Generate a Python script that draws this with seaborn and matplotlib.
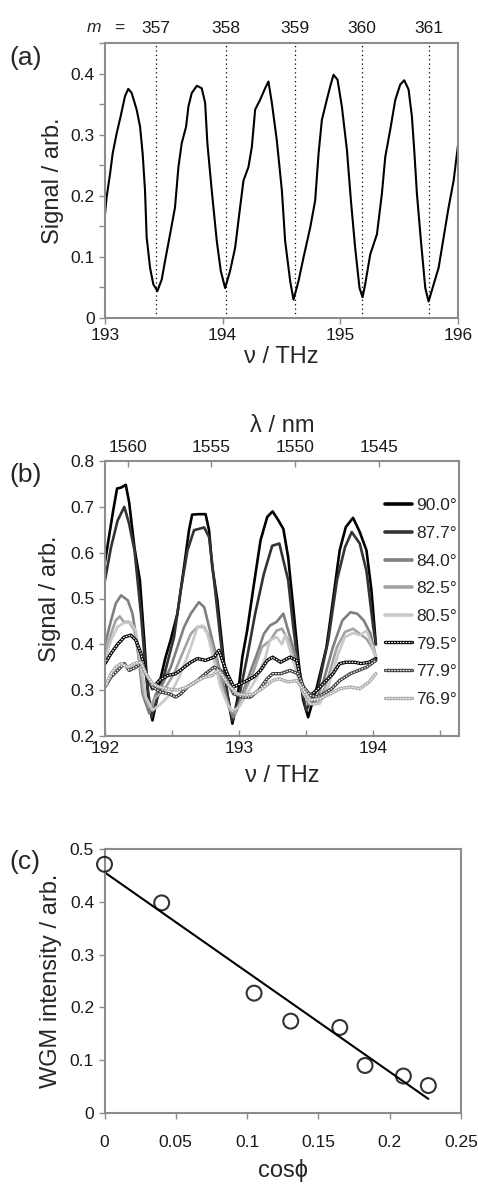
import numpy as np
import pandas as pd
import seaborn as sns
import matplotlib.pyplot as plt
from matplotlib.lines import Line2D
from matplotlib.legend_handler import HandlerTuple
from matplotlib.ticker import MultipleLocator, FuncFormatter

# ---- data: panel (a), single WGM spectrum ----
a_freq = [193.00, 193.014, 193.043, 193.065, 193.099, 193.133, 193.170, 193.198, 193.227,
          193.269, 193.298, 193.320, 193.340, 193.354, 193.383, 193.411, 193.445, 193.482,
          193.510, 193.553, 193.595, 193.624, 193.652, 193.689, 193.709, 193.737, 193.780,
          193.822, 193.851, 193.870, 193.907, 193.950, 193.984, 194.021, 194.063, 194.106,
          194.148, 194.177, 194.219, 194.248, 194.276, 194.318, 194.361, 194.389, 194.418,
          194.460, 194.503, 194.531, 194.574, 194.602, 194.644, 194.687, 194.744, 194.786,
          194.815, 194.843, 194.885, 194.914, 194.942, 194.976, 195.013, 195.056, 195.090,
          195.126, 195.163, 195.189, 195.211, 195.254, 195.311, 195.353, 195.382, 195.424,
          195.467, 195.509, 195.543, 195.580, 195.608, 195.628, 195.651, 195.685, 195.722,
          195.750, 195.793, 195.835, 195.878, 195.920, 195.963, 196.000]
a_signal = [0.170, 0.198, 0.236, 0.269, 0.302, 0.330, 0.363, 0.375, 0.368,
            0.341, 0.313, 0.269, 0.209, 0.132, 0.082, 0.055, 0.044, 0.063,
            0.093, 0.137, 0.181, 0.247, 0.286, 0.313, 0.346, 0.368, 0.380,
            0.376, 0.352, 0.286, 0.209, 0.126, 0.077, 0.049, 0.077, 0.115,
            0.181, 0.225, 0.247, 0.280, 0.341, 0.357, 0.376, 0.387, 0.352,
            0.291, 0.209, 0.126, 0.060, 0.030, 0.060, 0.099, 0.148, 0.192,
            0.269, 0.324, 0.357, 0.379, 0.398, 0.390, 0.346, 0.275, 0.192,
            0.115, 0.049, 0.034, 0.055, 0.104, 0.137, 0.203, 0.264, 0.308,
            0.357, 0.382, 0.389, 0.374, 0.330, 0.275, 0.203, 0.126, 0.049,
            0.027, 0.055, 0.082, 0.132, 0.181, 0.225, 0.283]
m_freq = [193.434, 194.026, 194.616, 195.180, 195.753]
m_labels = ["357", "358", "359", "360", "361"]

# ---- data: panel (b), spectra at different angles ----
angles = ["90.0°", "87.7°", "84.0°", "82.5°", "80.5°", "79.5°", "77.9°", "76.9°"]
b_colors = ["#000000", "#333333", "#7f7f7f", "#a3a3a3", "#c9c9c9", "#000000", "#3c3c3c", "#a8a8a8"]
b_dotted = [False, False, False, False, False, True, True, True]
lambda_ticks = [1560, 1555, 1550, 1545]

f_900 = [192.00, 192.03, 192.06, 192.09, 192.12, 192.155, 192.18, 192.22, 192.26, 192.29, 192.32,
         192.354, 192.38, 192.41, 192.45, 192.49, 192.54, 192.59, 192.627, 192.65, 192.70, 192.75,
         192.776, 192.80, 192.838, 192.875, 192.912, 192.95, 192.986, 193.024, 193.06, 193.11,
         193.16, 193.21, 193.25, 193.29, 193.33, 193.366, 193.404, 193.44, 193.478, 193.515,
         193.58, 193.652, 193.70, 193.75, 193.796, 193.85, 193.90, 193.95, 193.987, 194.02]
s_900 = [0.58, 0.635, 0.69, 0.74, 0.742, 0.748, 0.71, 0.61, 0.54, 0.42, 0.29,
         0.234, 0.27, 0.32, 0.37, 0.41, 0.467, 0.57, 0.65, 0.683, 0.684, 0.684,
         0.649, 0.569, 0.496, 0.394, 0.292, 0.227, 0.278, 0.372, 0.43, 0.53,
         0.627, 0.678, 0.69, 0.672, 0.652, 0.59, 0.48, 0.372, 0.278, 0.241,
         0.307, 0.394, 0.496, 0.605, 0.656, 0.676, 0.645, 0.605, 0.518, 0.40]

f_877 = [192.00, 192.045, 192.094, 192.144, 192.18, 192.22, 192.268, 192.305, 192.347, 192.43,
         192.515, 192.565, 192.615, 192.664, 192.74, 192.776, 192.813, 192.862, 192.912, 192.95,
         193.00, 193.06, 193.12, 193.185, 193.247, 193.30, 193.366, 193.404, 193.455, 193.50,
         193.59, 193.665, 193.73, 193.79, 193.84, 193.90, 193.95, 194.00, 194.02]
s_877 = [0.54, 0.612, 0.67, 0.70, 0.663, 0.605, 0.467, 0.336, 0.241, 0.32,
         0.416, 0.518, 0.605, 0.649, 0.655, 0.634, 0.54, 0.409, 0.292, 0.234,
         0.285, 0.372, 0.467, 0.554, 0.615, 0.62, 0.54, 0.438, 0.321, 0.256,
         0.307, 0.409, 0.54, 0.612, 0.645, 0.62, 0.56, 0.438, 0.40]

f_840 = [192.00, 192.045, 192.08, 192.12, 192.17, 192.205, 192.243, 192.28, 192.33, 192.38,
         192.43, 192.49, 192.54, 192.59, 192.64, 192.70, 192.74, 192.776, 192.825, 192.875,
         192.924, 192.957, 193.00, 193.06, 193.135, 193.185, 193.23, 193.28, 193.33, 193.366,
         193.416, 193.466, 193.515, 193.565, 193.63, 193.70, 193.77, 193.83, 193.88, 193.93,
         193.98, 194.02]
s_840 = [0.40, 0.452, 0.489, 0.507, 0.496, 0.467, 0.394, 0.292, 0.249, 0.292,
         0.314, 0.35, 0.394, 0.438, 0.467, 0.492, 0.481, 0.438, 0.38, 0.321,
         0.263, 0.241, 0.27, 0.321, 0.38, 0.423, 0.441, 0.449, 0.467, 0.43,
         0.38, 0.321, 0.27, 0.27, 0.321, 0.394, 0.452, 0.47, 0.467, 0.452,
         0.423, 0.372]

f_825 = [192.00, 192.045, 192.08, 192.11, 192.14, 192.18, 192.22, 192.255, 192.29, 192.33,
         192.38, 192.44, 192.515, 192.577, 192.64, 192.69, 192.74, 192.79, 192.84, 192.887,
         192.937, 192.974, 193.036, 193.11, 193.17, 193.234, 193.28, 193.32, 193.366, 193.416,
         193.466, 193.53, 193.59, 193.65, 193.73, 193.79, 193.85, 193.90, 193.95, 193.99, 194.02]
s_825 = [0.38, 0.423, 0.452, 0.461, 0.449, 0.449, 0.43, 0.365, 0.292, 0.263,
         0.285, 0.30, 0.336, 0.38, 0.423, 0.438, 0.438, 0.409, 0.35, 0.292,
         0.256, 0.249, 0.292, 0.343, 0.394, 0.409, 0.43, 0.434, 0.409, 0.358,
         0.307, 0.27, 0.27, 0.314, 0.394, 0.427, 0.434, 0.423, 0.412, 0.394, 0.372]

f_805 = [192.00, 192.045, 192.094, 192.144, 192.193, 192.23, 192.268, 192.305, 192.354, 192.416,
         192.49, 192.565, 192.64, 192.69, 192.726, 192.763, 192.813, 192.862, 192.912, 192.95,
         193.00, 193.06, 193.135, 193.197, 193.23, 193.28, 193.32, 193.345, 193.38, 193.43,
         193.48, 193.53, 193.60, 193.665, 193.74, 193.79, 193.85, 193.90, 193.95, 193.99, 194.02]
s_805 = [0.365, 0.409, 0.438, 0.447, 0.447, 0.43, 0.358, 0.285, 0.256, 0.27,
         0.292, 0.336, 0.394, 0.438, 0.441, 0.423, 0.365, 0.307, 0.27, 0.255,
         0.263, 0.292, 0.329, 0.372, 0.409, 0.416, 0.40, 0.42, 0.387, 0.336,
         0.292, 0.27, 0.27, 0.307, 0.38, 0.416, 0.425, 0.42, 0.43, 0.40, 0.372]

f_795 = [192.00, 192.045, 192.094, 192.144, 192.193, 192.23, 192.268, 192.305, 192.354, 192.404,
         192.466, 192.528, 192.59, 192.64, 192.69, 192.75, 192.813, 192.85, 192.875, 192.912,
         192.96, 193.01, 193.06, 193.11, 193.16, 193.21, 193.25, 193.31, 193.38, 193.43,
         193.466, 193.515, 193.58, 193.65, 193.70, 193.75, 193.80, 193.86, 193.91, 193.97, 194.02]
s_795 = [0.358, 0.38, 0.40, 0.416, 0.42, 0.409, 0.38, 0.336, 0.303, 0.321,
         0.332, 0.336, 0.35, 0.361, 0.369, 0.365, 0.372, 0.387, 0.365, 0.336,
         0.307, 0.314, 0.321, 0.329, 0.343, 0.365, 0.372, 0.361, 0.372, 0.365,
         0.314, 0.285, 0.30, 0.321, 0.336, 0.358, 0.361, 0.361, 0.358, 0.361, 0.369]

f_779 = [192.00, 192.045, 192.094, 192.144, 192.18, 192.23, 192.268, 192.305, 192.354, 192.416,
         192.478, 192.528, 192.565, 192.615, 192.69, 192.75, 192.813, 192.862, 192.912, 192.96,
         193.024, 193.085, 193.147, 193.21, 193.25, 193.31, 193.38, 193.44, 193.48, 193.53,
         193.58, 193.63, 193.69, 193.75, 193.83, 193.89, 193.95, 194.02]
s_779 = [0.307, 0.329, 0.343, 0.358, 0.343, 0.35, 0.361, 0.336, 0.307, 0.296,
         0.292, 0.285, 0.292, 0.307, 0.321, 0.336, 0.35, 0.343, 0.321, 0.292,
         0.285, 0.285, 0.30, 0.325, 0.336, 0.336, 0.343, 0.336, 0.307, 0.289,
         0.285, 0.292, 0.303, 0.321, 0.336, 0.343, 0.35, 0.365]

f_769 = [192.00, 192.045, 192.08, 192.12, 192.17, 192.22, 192.268, 192.305, 192.354, 192.404,
         192.466, 192.54, 192.615, 192.69, 192.75, 192.80, 192.838, 192.875, 192.924, 192.986,
         193.05, 193.11, 193.17, 193.25, 193.295, 193.366, 193.43, 193.48, 193.53, 193.60,
         193.68, 193.75, 193.83, 193.90, 193.97, 194.02]
s_769 = [0.307, 0.336, 0.35, 0.358, 0.35, 0.358, 0.361, 0.336, 0.314, 0.307,
         0.303, 0.30, 0.307, 0.321, 0.329, 0.332, 0.343, 0.332, 0.31, 0.292,
         0.289, 0.292, 0.303, 0.321, 0.325, 0.318, 0.321, 0.30, 0.278, 0.281,
         0.292, 0.303, 0.307, 0.303, 0.318, 0.336]

b_freqs = [f_900, f_877, f_840, f_825, f_805, f_795, f_779, f_769]
b_signals = [s_900, s_877, s_840, s_825, s_805, s_795, s_779, s_769]

# ---- data: panel (c), WGM intensity vs cos(phi) ----
cos_phi = [0.0, 0.0401, 0.1049, 0.1306, 0.165, 0.1827, 0.2096, 0.2271]
wgm_intensity = [0.471, 0.398, 0.227, 0.174, 0.162, 0.090, 0.070, 0.052]

# ---- style ----
sns.set_theme(style="white")
plt.rcParams['font.family'] = ['Liberation Sans', 'DejaVu Sans']
EDGE = '#8c8c8c'
TICK_FS = 12.5
LABEL_FS = 17
C_NM_THZ = 299792.458
DOT_LS = (0, (1.3, 1.0))

fmt = FuncFormatter(lambda v, p: f"{v:g}")


def style_axes(ax):
    for s in ax.spines.values():
        s.set_color(EDGE)
        s.set_linewidth(1.5)
    ax.tick_params(which='both', colors=EDGE, labelcolor='#1a1a1a', labelsize=TICK_FS,
                   length=4, width=1, direction='out', bottom=True, left=True)


fig = plt.figure(figsize=(4.78, 11.84), dpi=100)
W, H = 478, 1184


def add_axes(l, t, r, b):
    return fig.add_axes([l / W, 1 - b / H, (r - l) / W, (b - t) / H])


# ---- (a) ----
ax_a = add_axes(105, 43, 458, 318)
sns.lineplot(x=a_freq, y=a_signal, color='black', lw=1.5, estimator=None, sort=False, ax=ax_a)
for f in m_freq:
    ax_a.axvline(f, color='black', ls=(0, (1, 2.5)), lw=0.9)
ax_a.set_xlim(193, 196)
ax_a.set_ylim(0, 0.45)
ax_a.xaxis.set_major_locator(MultipleLocator(1))
ax_a.yaxis.set_major_locator(MultipleLocator(0.1))
ax_a.yaxis.set_minor_locator(MultipleLocator(0.05))
ax_a.xaxis.set_major_formatter(fmt)
ax_a.yaxis.set_major_formatter(fmt)
style_axes(ax_a)
ax_a.set_xlabel("ν / THz", fontsize=LABEL_FS)
ax_a.set_ylabel("Signal / arb.", fontsize=LABEL_FS)
ax_a.xaxis.set_label_coords(0.5, -0.10)
ax_a.yaxis.set_label_coords(-0.115, 0.5)
top_a = ax_a.secondary_xaxis('top')
top_a.set_xticks(m_freq, m_labels)
top_a.tick_params(length=0, labelsize=TICK_FS, labelcolor='#1a1a1a', pad=5)
top_a.spines['top'].set_visible(False)
fig.text(87 / W, 1 - 28 / H, "m", style='italic', fontsize=TICK_FS, ha='left', va='center')
fig.text(114 / W, 1 - 28 / H, "=", fontsize=TICK_FS, ha='left', va='center')

# ---- (b) ----
ax_b = add_axes(105, 461, 459, 736)
handles = []
for freq, sig, col, dotted in zip(b_freqs, b_signals, b_colors, b_dotted):
    if dotted:
        sns.lineplot(x=freq, y=sig, color=col, lw=2.4, estimator=None, sort=False, ax=ax_b)
        sns.lineplot(x=freq, y=sig, color='white', lw=0.9, linestyle=DOT_LS,
                     estimator=None, sort=False, ax=ax_b)
        handles.append((Line2D([], [], color=col, lw=2.4),
                        Line2D([], [], color='white', lw=0.9, linestyle=DOT_LS)))
    else:
        sns.lineplot(x=freq, y=sig, color=col, lw=1.9, estimator=None, sort=False, ax=ax_b)
        handles.append(Line2D([], [], color=col, lw=2.6))
ax_b.set_xlim(192, 194.64)
ax_b.set_ylim(0.2, 0.8)
ax_b.xaxis.set_major_locator(MultipleLocator(1))
ax_b.xaxis.set_minor_locator(MultipleLocator(0.5))
ax_b.yaxis.set_major_locator(MultipleLocator(0.1))
ax_b.xaxis.set_major_formatter(fmt)
ax_b.yaxis.set_major_formatter(fmt)
style_axes(ax_b)
ax_b.tick_params(axis='x', which='both', direction='in')
ax_b.set_xlabel("ν / THz", fontsize=LABEL_FS)
ax_b.set_ylabel("Signal / arb.", fontsize=LABEL_FS)
ax_b.xaxis.set_label_coords(0.5, -0.105)
ax_b.yaxis.set_label_coords(-0.125, 0.5)
top_b = ax_b.secondary_xaxis('top', functions=(lambda v: C_NM_THZ / np.maximum(v, 1e-9),
                                               lambda v: C_NM_THZ / np.maximum(v, 1e-9)))
top_b.set_xticks(lambda_ticks)
top_b.xaxis.set_major_formatter(fmt)
top_b.tick_params(direction='in', colors=EDGE, labelcolor='#1a1a1a', labelsize=TICK_FS,
                  length=4, width=1, pad=4)
top_b.spines['top'].set_visible(False)
top_b.set_xlabel("λ / nm", fontsize=LABEL_FS, labelpad=6)
ax_b.legend(handles, angles, handler_map={tuple: HandlerTuple(ndivide=1, pad=0)},
            frameon=False, loc='upper left', bbox_to_anchor=(0.79, 0.865),
            fontsize=TICK_FS, handlelength=1.6, handletextpad=0.2, labelspacing=0.72,
            borderpad=0, borderaxespad=0)

# ---- (c) ----
ax_c = add_axes(104.5, 849, 461, 1113)
sns.regplot(x=cos_phi, y=wgm_intensity, ci=None, ax=ax_c, color='black', marker='o',
            scatter_kws=dict(facecolors='none', edgecolors='black', s=115, linewidths=1.5,
                             zorder=3, clip_on=False),
            line_kws=dict(lw=1.5))
ax_c.set_xlim(0, 0.25)
ax_c.set_ylim(0, 0.5)
ax_c.xaxis.set_major_locator(MultipleLocator(0.05))
ax_c.yaxis.set_major_locator(MultipleLocator(0.1))
ax_c.xaxis.set_major_formatter(fmt)
ax_c.yaxis.set_major_formatter(fmt)
style_axes(ax_c)
ax_c.tick_params(axis='x', pad=12)
ax_c.set_xlabel("cosϕ", fontsize=LABEL_FS)
ax_c.set_ylabel("WGM intensity / arb.", fontsize=LABEL_FS)
ax_c.xaxis.set_label_coords(0.5, -0.175)
ax_c.yaxis.set_label_coords(-0.12, 0.5)

# panel letters
for lab, y in [("(a)", 58), ("(b)", 475), ("(c)", 862)]:
    fig.text(9 / W, 1 - y / H, lab, fontsize=19, ha='left', va='center')

fig.savefig("out.png", dpi=100)
